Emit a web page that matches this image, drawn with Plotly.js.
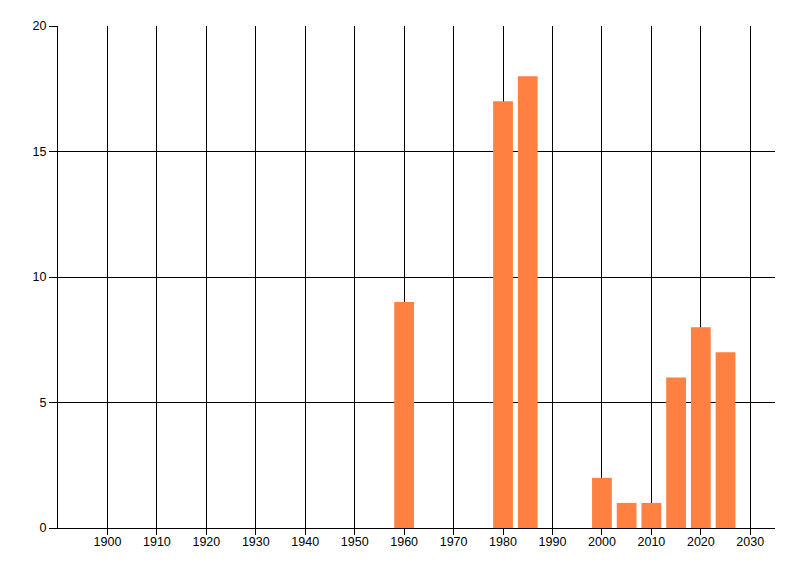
<!DOCTYPE html>
<html>
<head>
<meta charset="utf-8">
<script src="https://cdn.plot.ly/plotly-3.0.1.min.js"></script>
<style>
  html, body { margin: 0; padding: 0; background: #ffffff; }
  #grafico { width: 800px; height: 576px; }
</style>
</head>
<body>
<div id="grafico"></div>
<script>
var anos = [1960, 1980, 1985, 2000, 2005, 2010, 2015, 2020, 2025];
var contagens = [9, 17, 18, 2, 1, 1, 6, 8, 7];
var ticksX = [1900, 1910, 1920, 1930, 1940, 1950, 1960, 1970, 1980, 1990, 2000, 2010, 2020, 2030];
var ticksY = [0, 5, 10, 15, 20];

var traceBarras = {
    x: anos,
    y: contagens,
    type: 'bar',
    width: 4,
    marker: { color: '#ff8040', line: { width: 0 } },
    hoverinfo: 'x+y'
};

var fonteTicks = { family: 'Liberation Sans Narrow, Liberation Sans, Arial, sans-serif', size: 12.5, color: '#000000' };

var layout = {
    paper_bgcolor: '#ffffff',
    plot_bgcolor: '#ffffff',
    showlegend: false,
    margin: { t: 26, r: 25, b: 48, l: 57.5 },
    xaxis: {
        range: [1890, 2035],
        tickmode: 'array',
        tickvals: ticksX,
        ticktext: ticksX.map(String),
        tickfont: fonteTicks,
        ticklabelstandoff: -4,
        showgrid: true, gridcolor: '#000000', gridwidth: 1,
        zeroline: false,
        showline: true, linecolor: '#000000', linewidth: 1,
        ticks: 'outside', ticklen: 6, tickcolor: '#000000', tickwidth: 1
    },
    yaxis: {
        range: [0, 20],
        tickmode: 'array',
        tickvals: ticksY,
        ticktext: ticksY.map(String),
        tickfont: fonteTicks,
        showgrid: true, gridcolor: '#000000', gridwidth: 1,
        zeroline: false,
        showline: true, linecolor: '#000000', linewidth: 1,
        ticks: 'outside', ticklen: 8, tickcolor: '#000000', tickwidth: 1
    }
};

Plotly.newPlot('grafico', [traceBarras], layout, { displayModeBar: false, staticPlot: true });
</script>
</body>
</html>
